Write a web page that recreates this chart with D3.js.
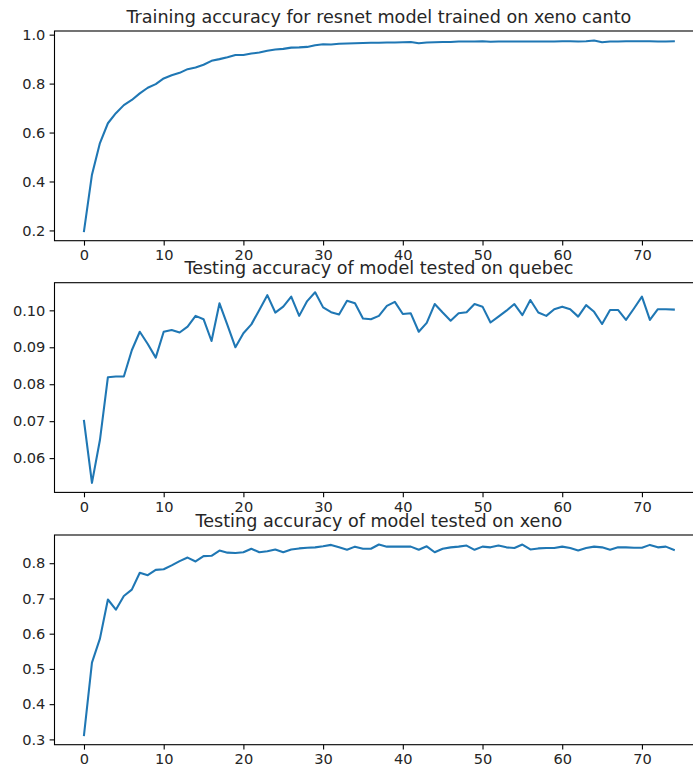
<!DOCTYPE html>
<html>
<head>
<meta charset="utf-8">
<script src="https://cdn.jsdelivr.net/npm/d3@7"></script>
<style>
  body { margin: 0; background: #fff; }
  svg { display: block; }
  text { font-family: "DejaVu Sans", sans-serif; }
</style>
</head>
<body>
<div class="chart"></div>
<script>
// data (one value per epoch, 0..74)
var trainXeno = [0.197, 0.428, 0.557, 0.638, 0.679, 0.712, 0.733, 0.760, 0.783, 0.798,
  0.821, 0.834, 0.844, 0.859, 0.866, 0.877, 0.893, 0.900, 0.908, 0.917,
  0.917, 0.923, 0.927, 0.934, 0.939, 0.942, 0.947, 0.948, 0.950, 0.957,
  0.961, 0.960, 0.963, 0.964, 0.965, 0.966, 0.967, 0.967, 0.968, 0.968,
  0.969, 0.970, 0.965, 0.968, 0.969, 0.970, 0.970, 0.972, 0.972, 0.972,
  0.973, 0.971, 0.972, 0.972, 0.972, 0.972, 0.972, 0.972, 0.972, 0.972,
  0.973, 0.973, 0.972, 0.973, 0.976, 0.969, 0.972, 0.972, 0.973, 0.973,
  0.973, 0.973, 0.972, 0.972, 0.973];

var testQuebec = [0.0701, 0.0533, 0.0649, 0.0819, 0.0821, 0.0821, 0.0892, 0.0942, 0.0909, 0.0872,
  0.0942, 0.0947, 0.0940, 0.0956, 0.0985, 0.0976, 0.0917, 0.1019, 0.0960, 0.0900,
  0.0938, 0.0962, 0.1001, 0.1041, 0.0994, 0.1010, 0.1037, 0.0985, 0.1025, 0.1049,
  0.1008, 0.0995, 0.0989, 0.1026, 0.1019, 0.0978, 0.0976, 0.0985, 0.1012, 0.1023,
  0.0990, 0.0992, 0.0942, 0.0966, 0.1017, 0.0994, 0.0972, 0.0992, 0.0995, 0.1017,
  0.1010, 0.0967, 0.0983, 0.0999, 0.1017, 0.0987, 0.1028, 0.0994, 0.0985, 0.1003,
  0.1010, 0.1003, 0.0983, 0.1014, 0.0996, 0.0963, 0.1001, 0.1001, 0.0974, 0.1005,
  0.1037, 0.0974, 0.1003, 0.1003, 0.1002];

var testXeno = [0.312, 0.518, 0.586, 0.697, 0.668, 0.707, 0.725, 0.773, 0.766, 0.781,
  0.783, 0.794, 0.806, 0.816, 0.805, 0.820, 0.821, 0.836, 0.830, 0.829,
  0.831, 0.841, 0.831, 0.834, 0.839, 0.831, 0.839, 0.842, 0.844, 0.845,
  0.848, 0.852, 0.845, 0.838, 0.847, 0.841, 0.841, 0.853, 0.847, 0.847,
  0.847, 0.847, 0.838, 0.848, 0.831, 0.841, 0.845, 0.847, 0.850, 0.838,
  0.847, 0.845, 0.850, 0.845, 0.843, 0.853, 0.839, 0.842, 0.843, 0.843,
  0.847, 0.843, 0.836, 0.843, 0.847, 0.845, 0.838, 0.845, 0.845, 0.844,
  0.844, 0.852, 0.845, 0.847, 0.838];

var titles = [
  "Training accuracy for resnet model trained on xeno canto",
  "Testing accuracy of model tested on quebec",
  "Testing accuracy of model tested on xeno"
];

var xTicks = [0, 10, 20, 30, 40, 50, 60, 70];
var yTicks1 = [0.2, 0.4, 0.6, 0.8, 1.0];
var yTicks2 = [0.06, 0.07, 0.08, 0.09, 0.10];
var yTicks3 = [0.3, 0.4, 0.5, 0.6, 0.7, 0.8];

//set chart
var svgWidth = 693;
var svgHeight = 767;
var axLeft = 54.5;
var axRight = 703.3;   // right spine falls just outside the picture
var axHeight = 209.7;
var axTops = [31, 282.7, 535];

var svg = d3
  .select('.chart')
  .append('svg')
  .attr('width', svgWidth)
  .attr('height', svgHeight);

// matplotlib style 5% margins
function padded(ext) {
  var pad = (ext[1] - ext[0]) * 0.05;
  return [ext[0] - pad, ext[1] + pad];
}

function drawPanel(values, title, top, yTicks, fmt) {
  var g = svg.append('g').attr('transform', 'translate(0,' + top + ')');

  var xScale = d3.scaleLinear()
    .domain(padded([0, values.length - 1]))
    .range([axLeft, axRight]);
  var yScale = d3.scaleLinear()
    .domain(padded(d3.extent(values)))
    .range([axHeight, 0]);

  var line = d3.line()
    .x(function(d, i) { return xScale(i); })
    .y(function(d) { return yScale(d); });

  g.append('path')
    .datum(values)
    .attr('fill', 'none')
    .attr('stroke', '#1f77b4')
    .attr('stroke-width', 2.08)
    .attr('stroke-linejoin', 'round')
    .attr('stroke-linecap', 'square')
    .attr('d', line);

  //x axis
  var bottomAxis = d3.axisBottom(xScale)
    .tickValues(xTicks)
    .tickFormat(d3.format('d'))
    .tickSize(4.9)
    .tickPadding(4.2)
    .tickSizeOuter(0);
  var xg = g.append('g')
    .attr('transform', 'translate(0,' + axHeight + ')')
    .call(bottomAxis);

  //y axis
  var leftAxis = d3.axisLeft(yScale)
    .tickValues(yTicks)
    .tickFormat(d3.format(fmt))
    .tickSize(4.9)
    .tickPadding(4.2)
    .tickSizeOuter(0);
  var yg = g.append('g')
    .attr('transform', 'translate(' + axLeft + ',0)')
    .call(leftAxis);

  [xg, yg].forEach(function(a) {
    a.select('.domain').remove();
    a.selectAll('line').attr('stroke', '#000').attr('stroke-width', 1.1);
    a.selectAll('text')
      .attr('fill', '#262626')
      .style('font-size', '14.6px')
      .style('font-family', '"DejaVu Sans", sans-serif');
  });

  // spines
  g.append('rect')
    .attr('x', axLeft)
    .attr('y', 0)
    .attr('width', axRight - axLeft)
    .attr('height', axHeight)
    .attr('fill', 'none')
    .attr('stroke', '#000')
    .attr('stroke-width', 1.1);

  g.append('text')
    .attr('x', (axLeft + axRight) / 2)
    .attr('y', -8.3)
    .attr('text-anchor', 'middle')
    .attr('fill', '#262626')
    .style('font-size', '17.6px')
    .text(title);
}

drawPanel(trainXeno, titles[0], axTops[0], yTicks1, '.1f');
drawPanel(testQuebec, titles[1], axTops[1], yTicks2, '.2f');
drawPanel(testXeno, titles[2], axTops[2], yTicks3, '.1f');
</script>
</body>
</html>
